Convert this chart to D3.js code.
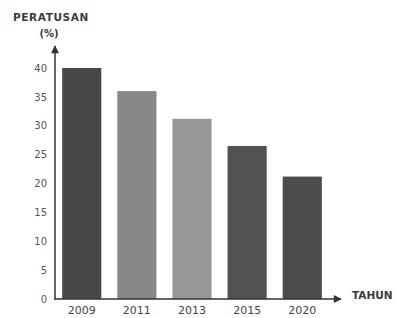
<!DOCTYPE html>
<html>
<head>
<meta charset="utf-8">
<script src="https://cdn.jsdelivr.net/npm/d3@7"></script>
<style>
  body { margin: 0; background: #fff; }
  text { font-family: "DejaVu Sans", sans-serif; }
</style>
</head>
<body>
<div id="chart"></div>
<script>
const years = ['2009', '2011', '2013', '2015', '2020'];
const values = [40, 36, 31.2, 26.5, 21.2];
const barColors = ['#484848', '#888888', '#979797', '#525252', '#4c4c4c'];
const yTicks = [0, 5, 10, 15, 20, 25, 30, 35, 40];

const width = 396, height = 318;
const x0 = 55, yBase = 299;

const svg = d3.select('#chart').append('svg')
  .attr('width', width)
  .attr('height', height);

const x = d3.scaleBand()
  .domain(years)
  .range([x0, 329])
  .paddingInner(0.29)
  .paddingOuter(0.13);

const y = d3.scaleLinear()
  .domain([0, 40])
  .range([yBase, 68]);

// bars
svg.selectAll('rect.bar')
  .data(values)
  .join('rect')
  .attr('class', 'bar')
  .attr('x', (d, i) => x(years[i]))
  .attr('y', d => y(d))
  .attr('width', x.bandwidth())
  .attr('height', d => yBase - y(d))
  .attr('fill', (d, i) => barColors[i]);

// y axis
const yAxis = svg.append('g')
  .attr('transform', 'translate(' + x0 + ',0)')
  .call(d3.axisLeft(y).tickValues(yTicks).tickSize(0).tickPadding(8));
yAxis.select('.domain').remove();
yAxis.selectAll('text')
  .attr('fill', '#555')
  .style('font-size', '10px');

// x axis
const xAxis = svg.append('g')
  .attr('transform', 'translate(0,' + yBase + ')')
  .call(d3.axisBottom(x).tickSize(0).tickPadding(7));
xAxis.select('.domain').remove();
xAxis.selectAll('text')
  .attr('fill', '#444')
  .style('font-size', '11px');

// axis lines with arrows
svg.append('defs').append('marker')
  .attr('id', 'arrow')
  .attr('viewBox', '0 0 10 10')
  .attr('refX', 9).attr('refY', 5)
  .attr('markerWidth', 10).attr('markerHeight', 8)
  .attr('markerUnits', 'userSpaceOnUse')
  .attr('orient', 'auto')
  .append('path')
  .attr('d', 'M0,0 L10,5 L0,10 Z')
  .attr('fill', '#333');

svg.append('line')
  .attr('x1', x0).attr('y1', yBase + 0.5)
  .attr('x2', x0).attr('y2', 46)
  .attr('stroke', '#333').attr('stroke-width', 1.5)
  .attr('marker-end', 'url(#arrow)');

svg.append('line')
  .attr('x1', x0 - 0.5).attr('y1', yBase)
  .attr('x2', 341).attr('y2', yBase)
  .attr('stroke', '#333').attr('stroke-width', 1.5)
  .attr('marker-end', 'url(#arrow)');

// titles
svg.append('text')
  .attr('x', 13).attr('y', 21)
  .attr('fill', '#3a3a3a')
  .style('font-size', '10.5px')
  .style('font-weight', 'bold')
  .style('letter-spacing', '0.6px')
  .text('PERATUSAN');

svg.append('text')
  .attr('x', 49).attr('y', 37)
  .attr('text-anchor', 'middle')
  .attr('fill', '#3a3a3a')
  .style('font-size', '10px')
  .style('font-weight', 'bold')
  .text('(%)');

svg.append('text')
  .attr('x', 352).attr('y', 299)
  .attr('fill', '#3a3a3a')
  .style('font-size', '10.5px')
  .style('font-weight', 'bold')
  .text('TAHUN');
</script>
</body>
</html>
